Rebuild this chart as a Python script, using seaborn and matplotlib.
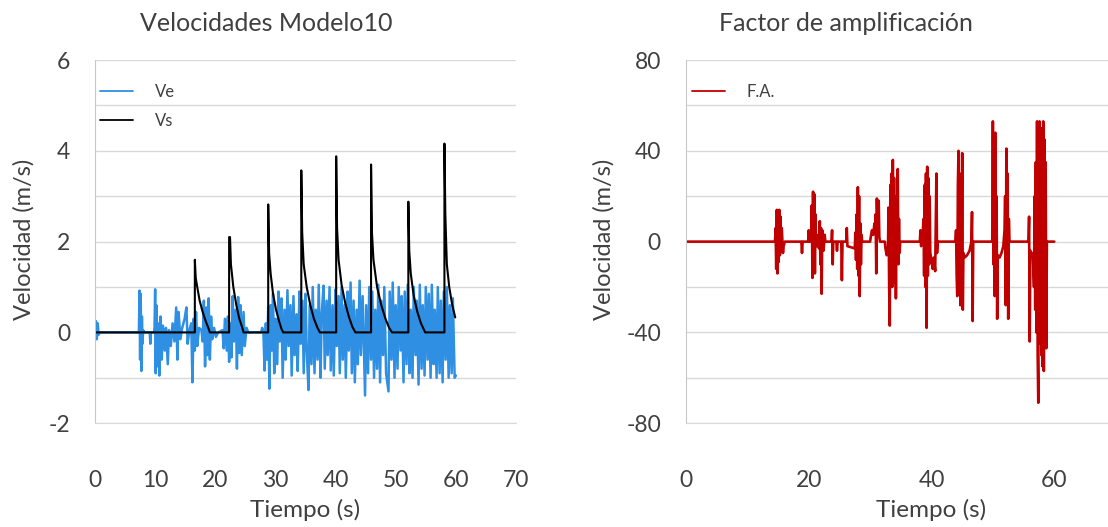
import numpy as np
import pandas as pd
import seaborn as sns
import matplotlib.pyplot as plt
from matplotlib.ticker import MultipleLocator

# --- data ---
# Ve: input velocity (blue), time in s, value in m/s
ve_t = [0.0, 0.15, 0.3, 0.45, 0.6, 0.8, 7.3, 7.4, 7.5, 7.6, 7.7, 7.8, 7.9, 8.0, 8.2, 9.1, 9.2, 9.3, 9.8, 9.9,
        10.0, 10.1, 10.2, 10.3, 10.5, 10.7, 10.9, 11.1, 11.3, 11.6, 11.8, 12.1, 12.3, 12.6, 12.9, 13.2, 13.5, 13.7, 13.9, 14.2,
        14.5, 14.9, 15.2, 15.4, 15.7, 16.0, 16.2, 16.4, 16.6, 16.8, 17.0, 17.3, 17.7, 17.9, 18.1, 18.3, 18.5, 18.7, 18.9, 19.1,
        19.3, 19.5, 19.8, 20.1, 20.5, 21.2, 21.4, 21.6, 21.9, 22.1, 22.3, 22.5, 22.7, 22.9, 23.1, 23.4, 23.6, 23.8, 24.0, 24.2,
        24.4, 24.7, 24.9, 25.2, 25.5, 27.6, 27.8,
        28.0, 28.2, 28.4, 28.6, 28.8, 29.0, 29.2, 29.4, 29.6, 29.8,
        30.0, 30.3, 30.5, 30.7, 31.0, 31.2, 31.5, 31.7, 32.0, 32.2,
        32.5, 32.7, 33.0, 33.2, 33.5, 33.7, 34.0, 34.2, 34.5, 34.7,
        35.0, 35.2, 35.5, 35.7, 36.0, 36.2, 36.5, 36.7, 37.0, 37.2,
        37.5, 37.7, 38.0, 38.2, 38.5, 38.7, 39.0, 39.2, 39.5, 39.7,
        40.0, 40.2, 40.5, 40.7, 41.0, 41.2, 41.5, 41.7, 42.0, 42.2,
        42.5, 42.7, 43.0, 43.2, 43.5, 43.7, 44.0, 44.2, 44.5, 44.9,
        45.1, 45.4, 45.6, 45.9, 46.1, 46.4, 46.6, 46.9, 47.1, 47.4,
        47.6, 47.9, 48.1, 48.4, 48.8, 49.0, 49.3, 49.5, 49.8, 50.0,
        50.3, 50.5, 50.8, 51.0, 51.3, 51.5, 51.8, 52.0, 52.3, 52.5,
        52.8, 53.0, 53.3, 53.5, 53.8, 54.0, 54.3, 54.5, 54.8, 55.0,
        55.3, 55.5, 55.8, 56.0, 56.3, 56.5, 56.8, 57.0, 57.3, 57.5,
        57.8, 58.0, 58.3, 58.5, 58.8, 59.0, 59.3, 59.5, 59.8, 60.0]
ve_v = [0, 0.25, -0.15, 0.2, -0.05, 0, 0, 0.92, -0.6, 0.85, -0.85, 0.35, -0.25, 0.05, 0, 0, -0.25, 0, 0, 0.1,
        0.95, -0.9, 0.6, -0.75, 0.2, -0.95, 0.35, -0.6, 0.15, -0.4, 0.1, -0.7, 0.05, -0.3, 0.2, -0.2, 0.55, -0.6, 0.45, -0.15,
        0.1, 0.3, 0.55, -0.25, 0.05, 0.2, -1.1, 0.3, -0.4, 0.45, -0.3, 0.1, 0.05, -0.2, 0.7, -0.75, 0.55, -0.5, 0.75, -0.6,
        0.35, -0.15, 0.1, -0.1, 0, 0.05, -0.35, 0.3, -0.4, 0.35, -0.65, 0.2, -0.55, 0.8, -0.2, 0.5, -0.8, 0.78, -0.45, 0.6,
        -0.5, 0.45, -0.3, 0.1, 0, 0, 0.1,
        0, -0.84, 0.2, -0.6, 0.55, -1.24, 0.6, -0.4, 0.85, -0.9,
        0.3, -0.7, 0.9, -0.2, 0.75, -1.0, 0.5, -0.6, 0.93, -0.3,
        0.6, -0.95, 0.8, -0.5, 0.4, -0.85, 0.9, -0.25, 0.7, -0.9,
        0.85, -0.4, -1.27, 0.6, -0.7, 1.0, -0.9, 0.5, -0.6, 1.05,
        -1.0, 0.4, 1.03, -0.8, 0.7, -0.5, 1.0, -0.84, 0.6, -0.95,
        0.95, -0.3, 0.8, -0.9, 1.0, -0.6, 0.6, -1.0, 0.9, -0.4,
        1.1, -0.9, 0.7, -1.1, 0.5, -0.7, 1.14, -0.5, 0.8, -1.39,
        0.6, -0.9, 1.0, -0.6, 0.9, -1.0, 0.5, -0.8, 1.05, -1.1,
        0.7, -0.5, 1.0, -0.9, -1.3, 0.9, -0.6, 1.1, -1.0, 0.6,
        -0.8, 1.0, -0.4, 0.8, -1.1, 0.9, -0.7, 1.05, -0.9, 0.5,
        -1.0, 1.0, -0.5, 0.7, -1.15, 1.05, -0.8, 0.6, -0.95, 1.0,
        -0.6, 0.85, -1.0, 1.05, -0.7, 0.5, -1.0, 1.0, -0.9, 0.7,
        -1.1, 0.9, -0.6, 1.0, -1.0, 0.6, -0.9, 0.75, -1.0, -0.95]

# Vs: output velocity (black)
vs_t = [0,
        16.6, 16.6, 16.75, 17.0, 17.4, 17.9, 18.4, 18.9, 19.1,
        22.3, 22.3, 22.45, 22.6, 23.0, 23.5, 24.0, 24.5, 24.7,
        28.8, 28.8, 28.95, 29.2, 29.6, 30.1, 30.6, 31.0, 31.3,
        34.3, 34.3, 34.45, 34.7, 35.2, 35.8, 36.4, 37.0, 37.4,
        40.1, 40.1, 40.25, 40.5, 41.0, 41.6, 42.2, 42.8, 43.3,
        45.9, 45.9, 46.05, 46.3, 46.9, 47.6, 48.3, 48.9, 49.4,
        52.1, 52.1, 52.25, 52.5, 53.0, 53.6, 54.2, 54.9,
        58.1, 58.1, 58.25, 58.5, 58.9, 59.4, 59.9]
vs_v = [0,
        0, 1.6, 1.2, 1.0, 0.7, 0.45, 0.25, 0.08, 0,
        0, 2.1, 2.1, 1.5, 1.0, 0.6, 0.3, 0.1, 0,
        0, 2.82, 1.75, 1.3, 0.85, 0.5, 0.25, 0.08, 0,
        0, 3.57, 2.2, 1.5, 1.0, 0.6, 0.3, 0.1, 0,
        0, 3.88, 2.3, 1.6, 1.05, 0.65, 0.35, 0.12, 0,
        0, 3.70, 2.2, 1.6, 1.0, 0.6, 0.3, 0.1, 0,
        0, 2.88, 1.8, 1.3, 0.8, 0.45, 0.2, 0,
        0, 4.16, 2.6, 1.5, 1.0, 0.6, 0.33]

# F.A.: amplification factor (red)
fa_t = [0, 14.5, 14.6, 14.7, 14.8, 14.9, 15.0, 15.1, 15.2, 15.3, 15.4, 15.5, 15.6, 15.8, 15.9, 16.1,
        18.8, 18.9, 19.0, 19.9, 20.0, 20.1, 20.4, 20.5, 20.6, 20.7, 20.8, 20.9, 21.0, 21.1, 21.2, 21.3,
        21.5, 21.7, 21.8, 21.9, 22.0, 22.1, 22.2, 22.4, 22.6, 22.7, 23.7, 23.8, 23.9, 24.0, 24.5, 24.6,
        24.7, 25.3, 25.4, 25.5, 26.1, 26.2, 26.3, 27.5, 27.6, 27.7, 27.8, 27.9, 28.0, 28.1, 28.2, 28.3,
        28.4, 28.5, 28.6, 28.7, 30.0, 30.1, 30.3, 30.5, 30.7, 30.8, 30.9, 31.0, 31.1, 31.2, 31.3, 31.4,
        31.5, 31.6, 32.4, 32.5, 32.7, 32.9, 33.0, 33.1, 33.2, 33.3, 33.4, 33.5, 33.6, 33.7, 33.8, 33.9,
        34.0, 34.1, 34.2, 34.3, 34.4, 34.5, 34.6, 34.7, 34.8, 34.9, 38.1, 38.2, 38.3, 38.5, 38.7, 38.8,
        38.9, 39.0, 39.1, 39.2, 39.3, 39.4, 39.5, 39.6, 39.7, 39.8, 40.0, 40.2, 40.4, 40.6, 40.8, 40.9,
        41.0, 43.9, 44.0, 44.1, 44.2, 44.3, 44.4, 44.5, 44.6, 44.7, 44.8, 44.9, 45.0, 45.1, 45.2, 45.4,
        45.8, 46.2, 46.5, 46.6, 46.7, 46.8, 49.9, 50.0, 50.1, 50.2, 50.3, 50.4, 50.5, 50.6, 50.7, 50.8,
        51.1, 51.4, 51.7, 51.9, 52.0, 52.1, 52.2, 52.3, 52.4, 52.5, 52.6, 52.7, 55.8, 55.9, 56.0, 56.1,
        56.3, 56.5, 56.7, 56.8, 56.9, 57.0, 57.1, 57.2, 57.3, 57.4, 57.5, 57.6, 57.7, 57.8, 57.9, 58.0,
        58.1, 58.2, 58.3, 58.4, 58.5, 58.6, 58.7, 58.8, 60.0]
fa_v = [0, 0, 6, -12, 14, -14, 13, -9, 14, -6, 11, -4, 6, -5, -2, 0,
        0, -5, 0, 0, 5, 0, 0, 16, -16, 22, -8, 21, -14, 12, -2, 3,
        -2, -3, 9, -10, 6, -23, 5, -4, 3, 0, 0, 5, -10, 0, 0, -4,
        0, 0, -17, 0, 0, 6, -2, -3, 4, -8, 12, -12, 24, -15, 20, -24,
        8, -10, 3, 0, 0, 2, 5, 3, 8, 6, 12, -14, 19, 5, 14, 18,
        2, 0, 0, -3, -6, -5, 15, -20, -37, 25, -15, 30, -20, 36, -12, 28,
        -18, 20, -25, 15, -8, 32, -10, 10, -5, 0, 0, 5, -2, 0, 10, -15,
        25, -20, 30, -38, 33, -15, 28, -10, 20, -5, -8, -12, -7, -13, 30, -5,
        0, 0, 5, -15, -24, 25, 40, -20, 30, -28, 20, -15, 39, -30, -5, -7,
        -6, -4, 0, 13, -35, 0, 0, 53, -10, 30, -24, 48, -15, 20, -34, -6,
        -7, -5, -2, 5, 20, -28, 41, -20, 30, -34, 10, 0, 0, 11, -44, -4,
        -6, -5, -20, 20, -30, 35, -40, 53, -50, -71, 45, 53, -45, 40, -50, 50,
        -55, 53, -57, 45, -40, 35, -47, 0, 0]

ve_df = pd.DataFrame({"t": ve_t, "v": ve_v})
vs_df = pd.DataFrame({"t": vs_t, "v": vs_v})
fa_df = pd.DataFrame({"t": fa_t, "v": fa_v})

sns.set_style("white")
plt.rcParams['font.family'] = ['Lato', 'DejaVu Sans']
plt.rcParams['axes.unicode_minus'] = False

TXT = "#404040"
GRID = "#D9D9D9"
BLUE = "#2E8FE3"
RED = "#C00000"

fig = plt.figure(figsize=(11.08, 5.27), dpi=100)
ax1 = fig.add_axes([95 / 1108, 0.197, 421 / 1108, 0.689])
ax2 = fig.add_axes([686 / 1108, 0.197, 491 / 1108, 0.689])

sns.lineplot(data=ve_df, x="t", y="v", ax=ax1, color=BLUE, lw=1.8,
             estimator=None, sort=False, label="Ve")
sns.lineplot(data=vs_df, x="t", y="v", ax=ax1, color="black", lw=1.5,
             estimator=None, sort=False, label="Vs")
sns.lineplot(data=fa_df, x="t", y="v", ax=ax2, color=RED, lw=1.9,
             estimator=None, sort=False, label="F.A.")

def style(ax, xmax, xstep, ymin, ymax, ystep, yminor):
    ax.set_xlim(0, xmax)
    ax.set_ylim(ymin, ymax)
    ax.xaxis.set_major_locator(MultipleLocator(xstep))
    ax.yaxis.set_major_locator(MultipleLocator(ystep))
    ax.yaxis.set_minor_locator(MultipleLocator(yminor))
    ax.grid(False)
    ax.yaxis.grid(True, which="both", color=GRID, lw=1)
    ax.set_axisbelow(True)
    for s in ["top", "right"]:
        ax.spines[s].set_visible(False)
    ax.spines["left"].set_color("#C8C8C8")
    ax.spines["bottom"].set_color(GRID)
    ax.tick_params(axis="x", which="major", direction="out", length=12.5,
                   width=1, color=GRID, pad=21, labelsize=16.5, labelcolor=TXT)
    ax.tick_params(axis="y", which="both", length=0, pad=18,
                   labelsize=16.5, labelcolor=TXT)
    ax.set_xlabel("")
    ax.set_ylabel("")
    leg = ax.legend(loc="upper left", bbox_to_anchor=(0.012, 0.935), frameon=False,
                    fontsize=12, handlelength=2.0, handletextpad=1.3,
                    labelspacing=0.8, borderpad=0, borderaxespad=0)
    for t in leg.get_texts():
        t.set_color(TXT)
    for h in leg.get_lines():
        h.set_linewidth(1.3)

style(ax1, 70, 10, -2, 6, 2, 1)
style(ax2, 80, 20, -80, 80, 40, 20)
ax2.set_xticks([0, 20, 40, 60])

fig.text(266 / 1108, 0.955, "Velocidades Modelo10", ha="center", va="center",
         fontsize=18, color=TXT)
fig.text(846 / 1108, 0.955, "Factor de amplificación", ha="center", va="center",
         fontsize=18, color=TXT)
for x in [24 / 1108, 604 / 1108]:
    fig.text(x, 0.545, "Velocidad (m/s)", rotation=90, ha="center", va="center",
             fontsize=17, color=TXT)
for x in [305 / 1108, 931 / 1108]:
    fig.text(x, 0.032, "Tiempo (s)", ha="center", va="center",
             fontsize=17.5, color=TXT)

fig.savefig("out.png", dpi=100)
